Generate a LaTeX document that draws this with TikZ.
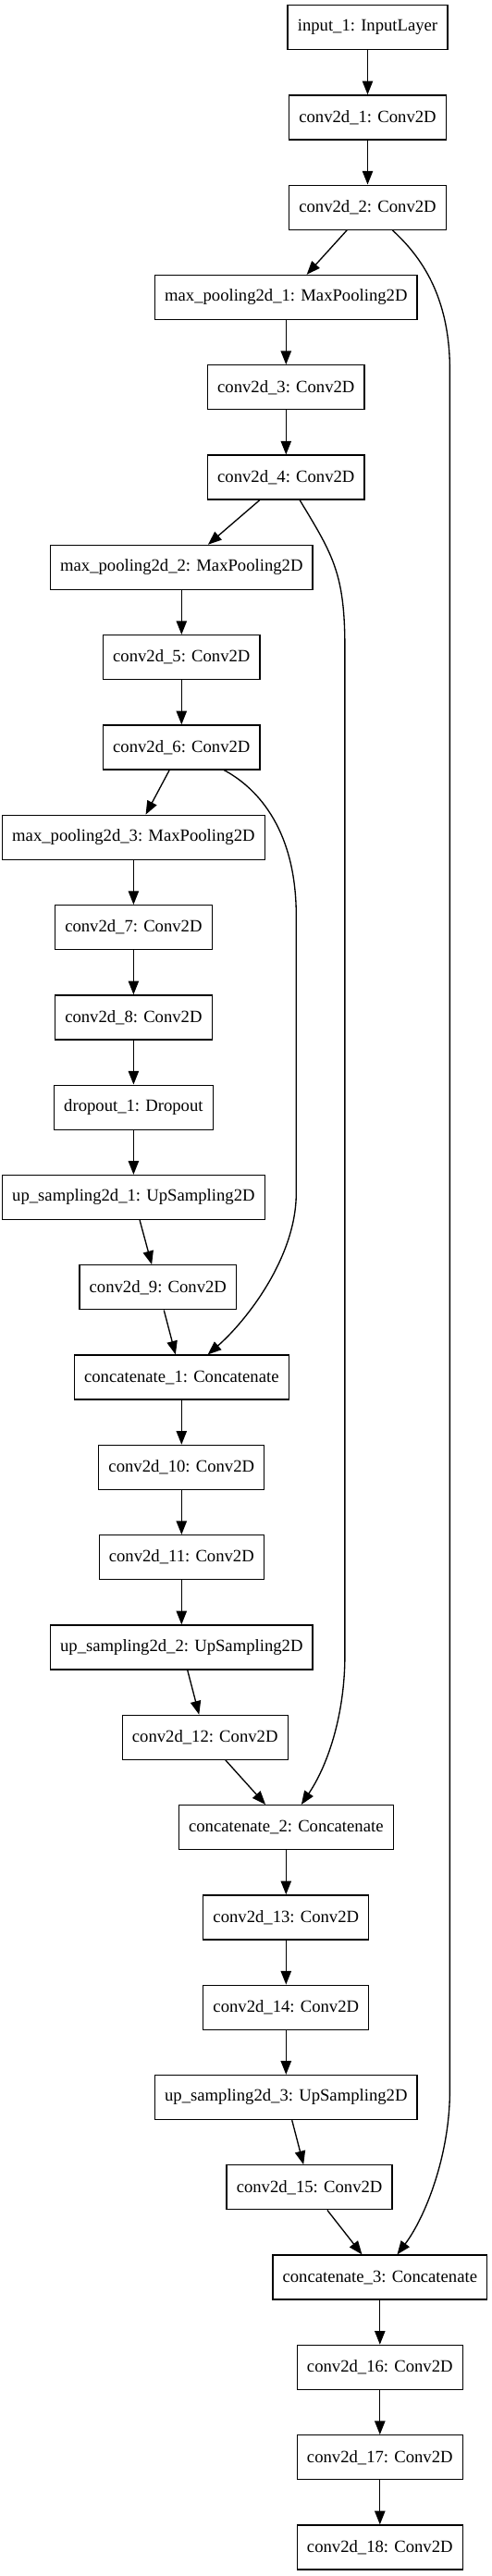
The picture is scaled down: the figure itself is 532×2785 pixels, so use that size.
\documentclass[tikz,border=0pt]{standalone}
\usepackage{fontspec}
\setmainfont{Liberation Serif}
\usetikzlibrary{arrows.meta}

\begin{document}
\begin{tikzpicture}[x=0.75pt, y=-0.75pt,
  layer/.style={draw, line width=1pt, rectangle, minimum height=36pt, inner xsep=8pt, inner ysep=0pt, font=\fontsize{14}{16}\selectfont},
  conn/.style={line width=1pt, -{Triangle[length=11pt, width=8.5pt]}}]
\useasboundingbox (0,0) rectangle (532,2785);
% Nodes
\node[layer] (in)   at (397.5,29.6)  {input\_1: InputLayer};
\node[layer] (c1)   at (397.5,126.9) {conv2d\_1: Conv2D};
\node[layer] (c2)   at (397.5,224.2) {conv2d\_2: Conv2D};
\node[layer] (mp1)  at (309.3,321.5) {max\_pooling2d\_1: MaxPooling2D};
\node[layer] (c3)   at (309.3,418.8) {conv2d\_3: Conv2D};
\node[layer] (c4)   at (309.3,516.1) {conv2d\_4: Conv2D};
\node[layer] (mp2)  at (196.3,613.4) {max\_pooling2d\_2: MaxPooling2D};
\node[layer] (c5)   at (196.3,710.7) {conv2d\_5: Conv2D};
\node[layer] (c6)   at (196.3,808.0) {conv2d\_6: Conv2D};
\node[layer] (mp3)  at (144.4,905.3) {max\_pooling2d\_3: MaxPooling2D};
\node[layer] (c7)   at (144.4,1002.6) {conv2d\_7: Conv2D};
\node[layer] (c8)   at (144.4,1099.9) {conv2d\_8: Conv2D};
\node[layer] (drop) at (144.4,1197.2) {dropout\_1: Dropout};
\node[layer] (up1)  at (144.4,1294.5) {up\_sampling2d\_1: UpSampling2D};
\node[layer] (c9)   at (170.8,1391.8) {conv2d\_9: Conv2D};
\node[layer] (cat1) at (196.3,1489.1) {concatenate\_1: Concatenate};
\node[layer] (c10)  at (196.3,1586.4) {conv2d\_10: Conv2D};
\node[layer] (c11)  at (196.3,1683.7) {conv2d\_11: Conv2D};
\node[layer] (up2)  at (196.3,1781.0) {up\_sampling2d\_2: UpSampling2D};
\node[layer] (c12)  at (221.7,1878.3) {conv2d\_12: Conv2D};
\node[layer] (cat2) at (309.3,1975.6) {concatenate\_2: Concatenate};
\node[layer] (c13)  at (309.3,2072.9) {conv2d\_13: Conv2D};
\node[layer] (c14)  at (309.3,2170.2) {conv2d\_14: Conv2D};
\node[layer] (up3)  at (309.3,2267.5) {up\_sampling2d\_3: UpSampling2D};
\node[layer] (c15)  at (334.6,2364.8) {conv2d\_15: Conv2D};
\node[layer] (cat3) at (410.8,2462.1) {concatenate\_3: Concatenate};
\node[layer] (c16)  at (410.8,2559.4) {conv2d\_16: Conv2D};
\node[layer] (c17)  at (410.8,2656.7) {conv2d\_17: Conv2D};
\node[layer] (c18)  at (410.8,2754.0) {conv2d\_18: Conv2D};

% edges along the main chain
\foreach \a/\b in {in/c1, c1/c2, c2/mp1, mp1/c3, c3/c4, c4/mp2, mp2/c5, c5/c6,
  c6/mp3, mp3/c7, c7/c8, c8/drop, drop/up1, up1/c9, c9/cat1, cat1/c10,
  c10/c11, c11/up2, up2/c12, c12/cat2, cat2/c13, c13/c14, c14/up3,
  up3/c15, c15/cat3, cat3/c16, c16/c17, c17/c18}
  \draw[conn] (\a) -- (\b);

% skip connections
\draw[conn] (c2) .. controls (455,277) and (486.4,320) .. (486.4,400)
  -- (486.4,2260) .. controls (486.4,2330) and (460,2397) .. (cat3);
\draw[conn] (c4) .. controls (360,600) and (372.9,620) .. (372.9,700)
  -- (372.9,1790) .. controls (372.9,1850) and (356.3,1905.6) .. (cat2);
\draw[conn] (c6) .. controls (272,848.5) and (320.3,890) .. (320.3,990)
  -- (320.3,1290) .. controls (320.3,1360) and (265.4,1429) .. (cat1);
\end{tikzpicture}
\end{document}
